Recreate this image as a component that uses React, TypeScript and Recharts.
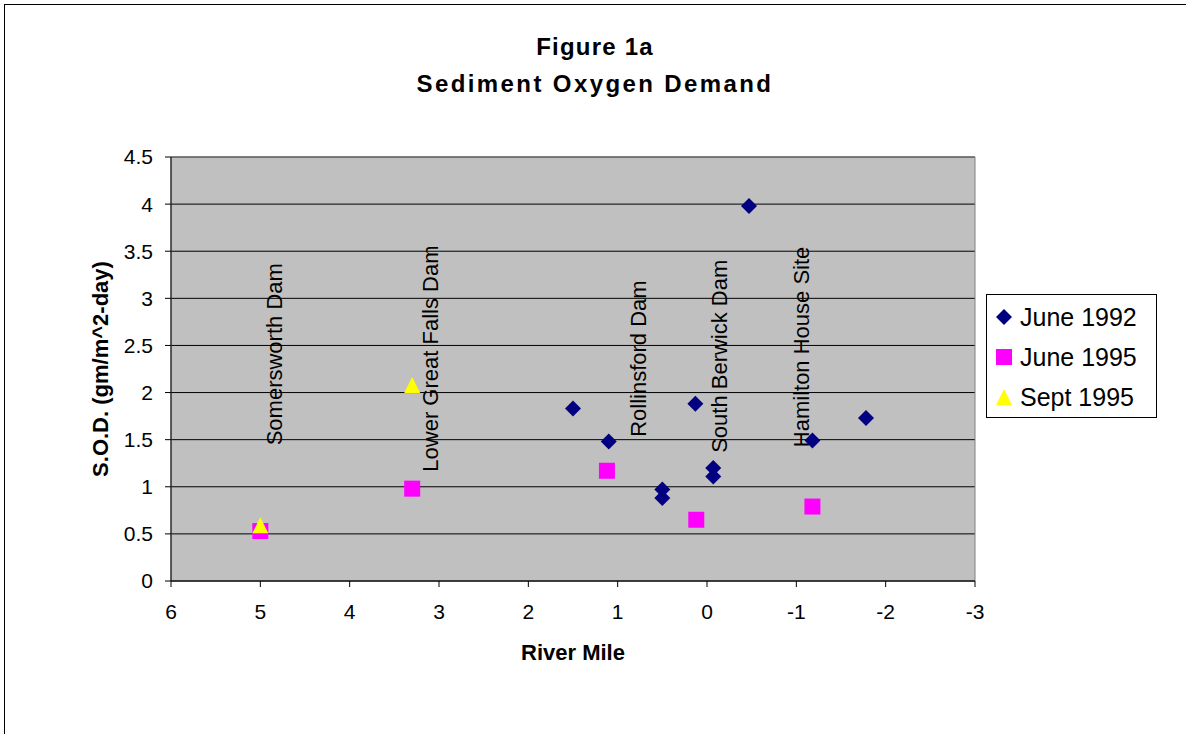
import { ScatterChart, Scatter, XAxis, YAxis, CartesianGrid, ReferenceArea } from 'recharts';

const june1992X = [1.5, 1.1, 0.5, 0.5, 0.13, -0.07, -0.07, -0.47, -1.18, -1.78];
const june1992Y = [1.83, 1.48, 0.97, 0.88, 1.88, 1.2, 1.11, 3.98, 1.49, 1.73];
const june1995X = [5, 3.3, 1.12, 0.12, -1.18];
const june1995Y = [0.53, 0.98, 1.17, 0.65, 0.79];
const sept1995X = [5, 3.3];
const sept1995Y = [0.58, 2.07];

const siteNames = ['Somersworth Dam', 'Lower Great Falls Dam', 'Rollinsford Dam', 'South Berwick Dam', 'Hamilton House Site'];
const siteX = [4.84, 3.1, 0.77, -0.14, -1.06];
const siteY = [1.44, 1.16, 1.53, 1.36, 1.42];

const xTicks = [6, 5, 4, 3, 2, 1, 0, -1, -2, -3];
const yTicks = [0, 0.5, 1, 1.5, 2, 2.5, 3, 3.5, 4, 4.5];

const FONT = '"Liberation Sans", Arial, sans-serif';

const june1992 = june1992X.map((x, i) => ({ x, y: june1992Y[i] }));
const june1995 = june1995X.map((x, i) => ({ x, y: june1995Y[i] }));
const sept1995 = sept1995X.map((x, i) => ({ x, y: sept1995Y[i] }));
const sites = siteNames.map((name, i) => ({ x: siteX[i], y: siteY[i], name }));

const Diamond = (p: any) => (
    <polygon points={`${p.cx},${p.cy - 8} ${p.cx + 8},${p.cy} ${p.cx},${p.cy + 8} ${p.cx - 8},${p.cy}`} fill="#000080" />
);
const Square = (p: any) => <rect x={p.cx - 8} y={p.cy - 8} width={16} height={16} fill="#FF00FF" />;
const Triangle = (p: any) => (
    <polygon points={`${p.cx},${p.cy - 9} ${p.cx + 8},${p.cy + 7} ${p.cx - 8},${p.cy + 7}`} fill="#FFFF00" />
);
const SiteLabel = (p: any) => (
    <text
        x={p.cx}
        y={p.cy}
        dy="0.35em"
        transform={`rotate(-90 ${p.cx} ${p.cy})`}
        fontSize={22}
        fontFamily={FONT}
        fill="#000"
    >
        {p.payload.name}
    </text>
);

const legendItems = [
    { name: 'June 1992', icon: <polygon points="9,1 17,9 9,17 1,9" fill="#000080" /> },
    { name: 'June 1995', icon: <rect x={1} y={1} width={16} height={16} fill="#FF00FF" /> },
    { name: 'Sept 1995', icon: <polygon points="9,1 17,17 1,17" fill="#FFFF00" /> },
];

const LegendBox = () => (
    <div style={{ position: 'absolute', left: 986, top: 294, border: '1px solid #000', background: '#fff', width: 171, height: 124, padding: '2px 0 0 8px', boxSizing: 'border-box', fontFamily: FONT }}>
        {legendItems.map((it) => (
            <div key={it.name} style={{ display: 'flex', alignItems: 'center', height: 40, fontSize: 25 }}>
                <svg width={18} height={18} style={{ marginRight: 7 }}>{it.icon}</svg>
                <span>{it.name}</span>
            </div>
        ))}
    </div>
);

export default function App() {
    return (
        <div style={{ position: 'absolute', left: 0, top: 0, width: 1186, height: 734, overflow: 'hidden', background: '#fff' }}>
            <div style={{ position: 'absolute', left: 4, top: 4, width: 1300, height: 900, border: '1px solid #000' }} />
            <div style={{ position: 'absolute', left: 0, top: 28, width: 1190, textAlign: 'center', fontFamily: FONT, fontWeight: 'bold', fontSize: 24, lineHeight: '37px' }}>
                <div style={{ letterSpacing: 1.2 }}>Figure 1a</div>
                <div style={{ letterSpacing: 2.4 }}>Sediment Oxygen Demand</div>
            </div>
            <div style={{ position: 'absolute', left: 0, top: 0 }}>
                <ScatterChart width={1186} height={734} margin={{ top: 157, right: 211, bottom: 0, left: 0 }}>
                    <CartesianGrid vertical={false} horizontal stroke="#000" fill="#C0C0C0" fillOpacity={1} />
                    <ReferenceArea x1={6} x2={-3} y1={0} y2={4.5} fill="none" stroke="#808080" strokeWidth={1} />
                    <XAxis
                        type="number"
                        dataKey="x"
                        domain={[-3, 6]}
                        ticks={xTicks}
                        reversed
                        height={153}
                        stroke="#000"
                        tickLine={{ stroke: '#000' }}
                        tickSize={6}
                        tickMargin={17}
                        tick={{ fill: '#000', fontSize: 21, fontFamily: FONT }}
                        allowDataOverflow
                        label={({ viewBox }: any) => (
                            <text x={viewBox.x + viewBox.width / 2} y={viewBox.y + 79} textAnchor="middle" fontSize={22} fontWeight="bold" fontFamily={FONT} fill="#000">
                                River Mile
                            </text>
                        )}
                    />
                    <YAxis
                        type="number"
                        dataKey="y"
                        domain={[0, 4.5]}
                        ticks={yTicks}
                        width={171}
                        stroke="#000"
                        tickLine={{ stroke: '#000' }}
                        tickSize={6}
                        tickMargin={12}
                        tick={{ fill: '#000', fontSize: 21, fontFamily: FONT }}
                        allowDataOverflow
                        label={({ viewBox }: any) => {
                            const cx = viewBox.x + 100;
                            const cy = viewBox.y + viewBox.height / 2;
                            return (
                                <text x={cx} y={cy} dy="0.35em" transform={`rotate(-90 ${cx} ${cy})`} textAnchor="middle" fontSize={22} fontWeight="bold" fontFamily={FONT} fill="#000">
                                    S.O.D. (gm/m^2-day)
                                </text>
                            );
                        }}
                    />
                    <Scatter name="Sites" data={sites} shape={SiteLabel} legendType="none" isAnimationActive={false} />
                    <Scatter name="June 1992" data={june1992} shape={Diamond} isAnimationActive={false} />
                    <Scatter name="June 1995" data={june1995} shape={Square} isAnimationActive={false} />
                    <Scatter name="Sept 1995" data={sept1995} shape={Triangle} isAnimationActive={false} />
                </ScatterChart>
            </div>
            <LegendBox />
        </div>
    );
}
